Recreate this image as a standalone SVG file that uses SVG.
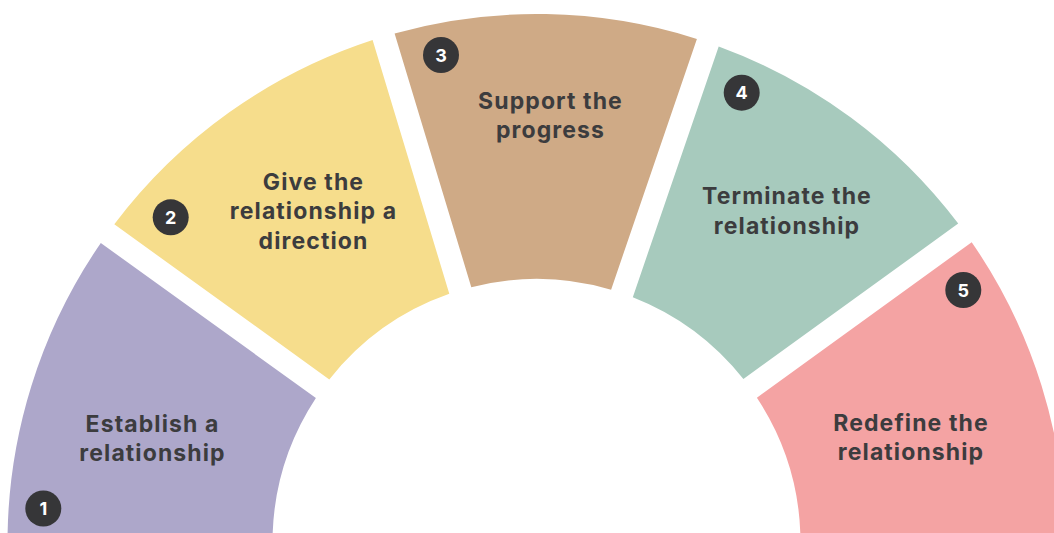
<svg xmlns="http://www.w3.org/2000/svg" width="1054" height="533" viewBox="0 0 1054 533">
  <style>
    .label { font-family: Inter, "Liberation Sans", Arial, sans-serif; font-weight: 700; font-size: 23px; letter-spacing: 1.1px; fill: #3c3c3e; text-anchor: middle; }
    .badge { fill: #363638; }
    .num { font-family: Inter, "Liberation Sans", Arial, sans-serif; font-weight: 700; font-size: 18px; fill: #ffffff; text-anchor: middle; }
  </style>
  <rect width="1054" height="533" fill="#ffffff"/>

  <!-- ring segments around centre (536.5, 543), inner radius 264, outer radius 529 -->
  <g id="step1">
    <path d="M 7.5 543 A 529 529 0 0 1 100.8 243 L 315.9 398 A 264 264 0 0 0 272.5 543 Z" fill="#ada7ca"/>
    <text class="label" x="152.5" y="431.5">Establish a</text>
    <text class="label" x="152.5" y="460.5">relationship</text>
    <circle class="badge" cx="43.3" cy="508.5" r="18"/>
    <text class="num" x="43.3" y="515">1</text>
  </g>

  <g id="step2">
    <path d="M 114.3 224.3 A 529 529 0 0 1 372.6 40 L 449.3 293.8 A 264 264 0 0 0 329.3 379.4 Z" fill="#f6dd8c"/>
    <text class="label" x="313.5" y="189.5">Give the</text>
    <text class="label" x="313.5" y="219">relationship a</text>
    <text class="label" x="313.5" y="248.5">direction</text>
    <circle class="badge" cx="170.7" cy="217.3" r="18"/>
    <text class="num" x="170.7" y="223.8">2</text>
  </g>

  <g id="step3">
    <path d="M 394.6 33.4 A 529 529 0 0 1 696.9 38.9 L 611.1 289.7 A 264 264 0 0 0 471.3 287.2 Z" fill="#cfaa86"/>
    <text class="label" x="550.5" y="108.5">Support the</text>
    <text class="label" x="550.5" y="137.5">progress</text>
    <circle class="badge" cx="441" cy="55" r="18"/>
    <text class="num" x="441" y="61.5">3</text>
  </g>

  <g id="step4">
    <path d="M 718.7 46.4 A 529 529 0 0 1 958.2 223.6 L 743.4 379 A 264 264 0 0 0 632.8 297.2 Z" fill="#a7cabd"/>
    <text class="label" x="787" y="204">Terminate the</text>
    <text class="label" x="787" y="233.5">relationship</text>
    <circle class="badge" cx="741.7" cy="92.7" r="18"/>
    <text class="num" x="741.7" y="99.2">4</text>
  </g>

  <g id="step5">
    <path d="M 971.7 242.2 A 529 529 0 0 1 1065.5 543 L 800.5 543 A 264 264 0 0 0 756.9 397.7 Z" fill="#f4a3a3"/>
    <text class="label" x="911" y="431">Redefine the</text>
    <text class="label" x="911" y="460">relationship</text>
    <circle class="badge" cx="963.3" cy="290" r="18"/>
    <text class="num" x="963.3" y="296.5">5</text>
  </g>
</svg>
